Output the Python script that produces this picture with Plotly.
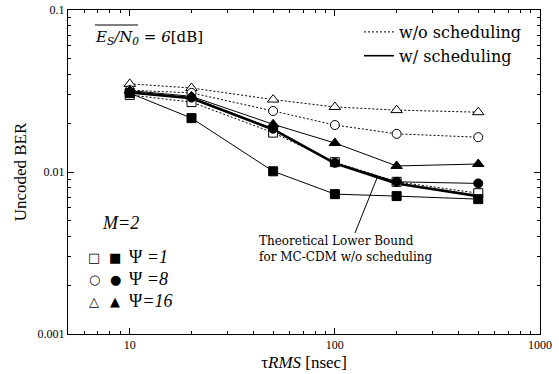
import plotly.graph_objects as go
import math

# ---------------- data ----------------
tau_rms = [10, 20, 50, 100, 200, 500]

ber_wo_psi1 = [0.0299, 0.0270, 0.0175, 0.0115, 0.0087, 0.0074]
ber_wo_psi8 = [0.0320, 0.0308, 0.0238, 0.0195, 0.0172, 0.0164]
ber_wo_psi16 = [0.0350, 0.0330, 0.0280, 0.0252, 0.0241, 0.0234]

ber_w_psi1 = [0.0307, 0.0215, 0.0101, 0.0073, 0.0071, 0.0068]
ber_w_psi8 = [0.0310, 0.0288, 0.0185, 0.0114, 0.0087, 0.0085]
ber_w_psi16 = [0.0318, 0.0293, 0.0197, 0.0151, 0.0109, 0.0112]

ber_bound = [0.0310, 0.0285, 0.0183, 0.0113, 0.0085, 0.0071]

x_tickvals = [10, 100, 1000]
x_ticktext = ["10", "100", "1000"]
y_tickvals = [0.001, 0.01, 0.1]
y_ticktext = ["0.001", "0.01", "0.1"]

# ---------------- layout helpers ----------------
W, H = 559, 374
L, R, T, B = 68, 19, 10, 40
PW, PH = W - L - R, H - T - B


def px(x):
    return (x - L) / PW


def py(y):
    return 1 - (y - T) / PH


SERIF = "'Liberation Serif', 'Times New Roman', Times, serif"
SERIF2 = "'DejaVu Serif', 'Liberation Serif', serif"
DOT = "2px,2px"

fig = go.Figure()

# theoretical lower bound (thick line)
fig.add_trace(go.Scatter(x=tau_rms, y=ber_bound, mode="lines",
                         line=dict(color="black", width=2.6),
                         showlegend=False, hoverinfo="skip"))

series = [
    (ber_wo_psi16, "triangle-up", "white", DOT),
    (ber_wo_psi8, "circle", "white", DOT),
    (ber_wo_psi1, "square", "white", DOT),
    (ber_w_psi16, "triangle-up", "black", "solid"),
    (ber_w_psi8, "circle", "black", "solid"),
    (ber_w_psi1, "square", "black", "solid"),
]
for ys, sym, fill, dash in series:
    fig.add_trace(go.Scatter(
        x=tau_rms, y=ys, mode="lines+markers",
        line=dict(color="black", width=1, dash=dash),
        marker=dict(symbol=sym, size=9 if sym != "triangle-up" else 10,
                    color=fill, line=dict(color="black", width=1)),
        showlegend=False))

# legend entries (line styles)
fig.add_trace(go.Scatter(x=[None], y=[None], mode="lines", name="w/o scheduling",
                         line=dict(color="black", width=1, dash=DOT)))
fig.add_trace(go.Scatter(x=[None], y=[None], mode="lines", name="w/ scheduling",
                         line=dict(color="black", width=1.6)))

axis_common = dict(
    showline=True, linecolor="black", linewidth=1, mirror="ticks",
    ticks="inside", ticklen=6, tickcolor="black", tickwidth=1,
    showgrid=False, zeroline=False,
    tickfont=dict(family=SERIF, size=12, color="black"),
    minor=dict(ticks="inside", ticklen=3, tickcolor="black", dtick="D1", showgrid=False),
)

fig.update_layout(
    width=W, height=H,
    margin=dict(l=L, r=R, t=T, b=B, autoexpand=False),
    plot_bgcolor="white", paper_bgcolor="white",
    font=dict(family=SERIF, color="black"),
    xaxis=dict(type="log", range=[math.log10(5), 3],
               tickvals=x_tickvals, ticktext=x_ticktext,
               title=dict(text="τ<i>RMS</i> [nsec]", font=dict(family=SERIF, size=17), standoff=4),
               **axis_common),
    yaxis=dict(type="log", range=[-3, -1],
               tickvals=y_tickvals, ticktext=y_ticktext,
               title=dict(text="Uncoded BER", font=dict(family=SERIF, size=17), standoff=6),
               **axis_common),
    legend=dict(x=px(359), y=py(15), xanchor="left", yanchor="top",
                font=dict(family=SERIF2, size=16, color="black"),
                bgcolor="rgba(0,0,0,0)", borderwidth=0, itemwidth=30,
                tracegroupgap=0),
)

ann = []
# Es/N0 label
ann.append(dict(xref="paper", yref="paper", x=px(93), y=py(37), xanchor="left", yanchor="middle",
                text="<i>E<sub>S</sub>/N<sub>0</sub></i> = <i>6</i>[dB]", showarrow=False,
                font=dict(family=SERIF2, size=15, color="black")))
# M=2
ann.append(dict(xref="paper", yref="paper", x=px(100), y=py(223), xanchor="left", yanchor="middle",
                text="<i>M=2</i>", showarrow=False,
                font=dict(family=SERIF, size=18, color="black")))
rows = [(257, "□", "■", "Ψ <i>=1</i>"), (279, "○", "●", "Ψ <i>=8</i>"), (301, "△", "▲", "Ψ<i>=16</i>")]
for yy, g1, g2, txt in rows:
    for gx, g in ((94, g1), (115, g2)):
        ann.append(dict(xref="paper", yref="paper", x=px(gx), y=py(yy), xanchor="center", yanchor="middle",
                        text=g, showarrow=False, font=dict(family="'DejaVu Sans', sans-serif", size=13, color="black")))
    ann.append(dict(xref="paper", yref="paper", x=px(127), y=py(yy), xanchor="left", yanchor="middle",
                    text=txt, showarrow=False, font=dict(family=SERIF, size=18, color="black")))
# Theoretical bound label
ann.append(dict(xref="paper", yref="paper", x=px(257), y=py(249), xanchor="left", yanchor="middle",
                text="Theoretical Lower Bound<br>for MC-CDM w/o scheduling", showarrow=False, align="left",
                font=dict(family=SERIF2, size=12, color="black")))
fig.update_layout(annotations=ann)

shapes = [
    # overline for Es/N0
    dict(type="line", xref="paper", yref="paper", x0=px(95), x1=px(138), y0=py(25), y1=py(25),
         line=dict(color="black", width=1)),
    # pointer line from label to bound curve
    dict(type="line", xref="paper", yref="paper", x0=px(355), y0=py(233), x1=px(377), y1=py(178),
         line=dict(color="black", width=1)),
]
fig.update_layout(shapes=shapes)

fig.write_html("out.html")
